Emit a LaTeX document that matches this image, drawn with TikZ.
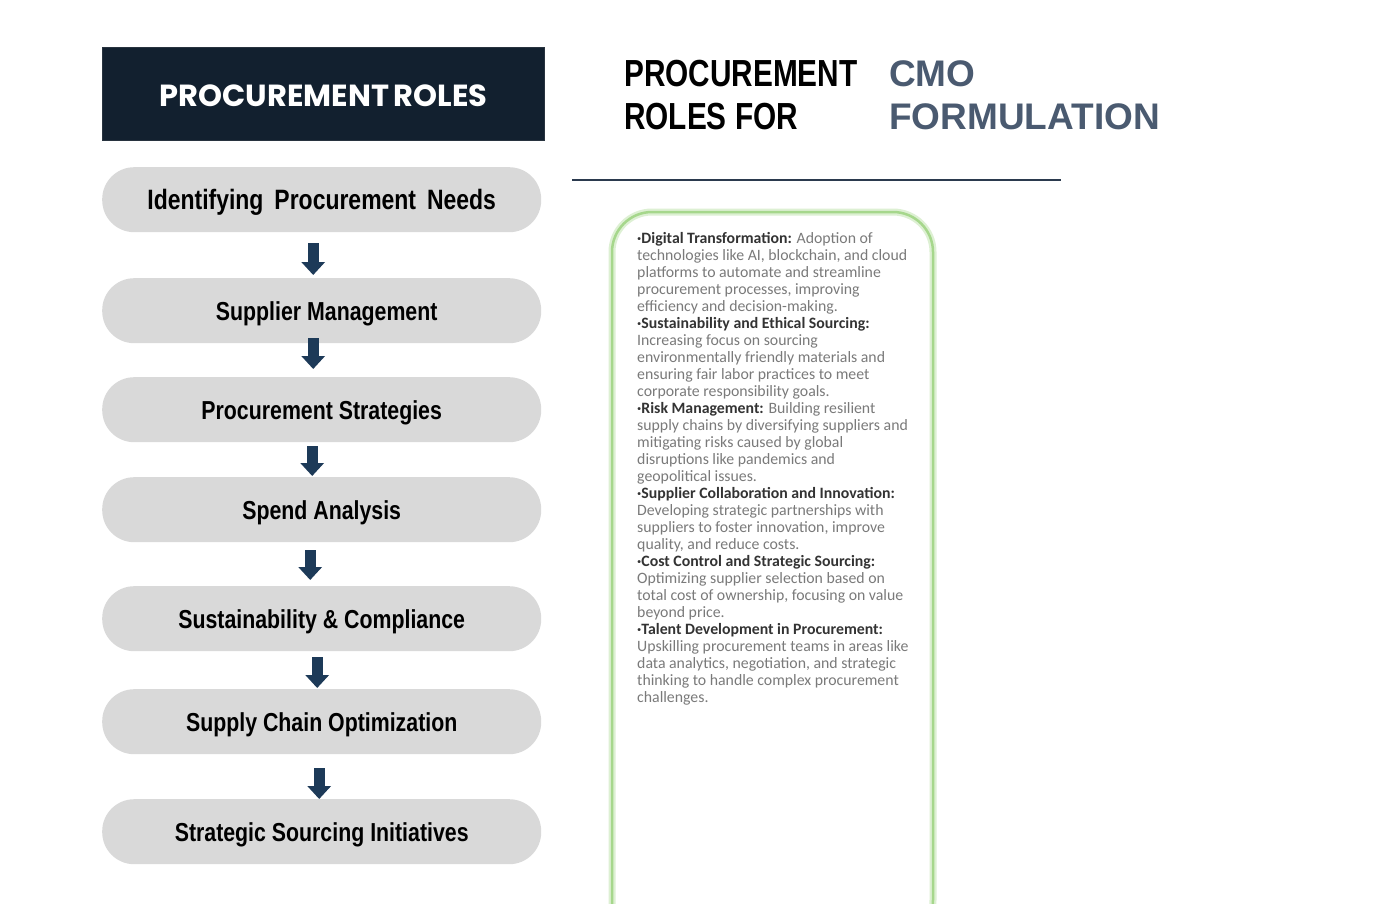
\documentclass[tikz,border=0pt]{standalone}
\usepackage{fontspec}
\setmainfont{Liberation Sans}
\newfontfamily\condfont[FakeStretch=0.82]{Liberation Sans}
\newfontfamily\headfont[FakeStretch=0.79]{Liberation Sans}
\newfontfamily\popfont{Poppins}
\newfontfamily\bodyfont{Carlito}
\usetikzlibrary{arrows.meta,calc}
\definecolor{navy}{HTML}{12202F}
\definecolor{pillgray}{HTML}{D9D9D9}
\definecolor{arrowc}{HTML}{1D3A58}
\definecolor{slate}{HTML}{4A5A70}
\definecolor{lgreen}{HTML}{A6D78C}
\definecolor{pgreen}{HTML}{DDF0D3}
\definecolor{bodygray}{HTML}{7A7A7A}
\definecolor{bodydark}{HTML}{333333}
\definecolor{rulec}{HTML}{2B3A4E}
\tikzset{
  pillbox/.style={fill=pillgray, rounded corners=32pt, minimum width=439pt, minimum height=65pt,
    anchor=north west, inner sep=0pt, text height=20pt, text depth=1.4pt,
    font=\condfont\bfseries\fontsize{26}{28}\selectfont, text=black},
  flowarrow/.style={draw=arrowc, line width=11pt, -{Triangle[width=23pt,length=13pt]}},
  headblack/.style={anchor=base west, inner sep=0pt, font=\headfont\bfseries\fontsize{37.7}{43}\selectfont, text=black},
  headslate/.style={anchor=base west, inner sep=0pt, font=\bfseries\fontsize{37}{43}\selectfont, text=slate},
}
\begin{document}
\begin{tikzpicture}[x=1pt,y=-1pt]
\useasboundingbox (0,0) rectangle (1380,919);
\fill[white] (0,0) rectangle (1380,919);

% title box
\node[fill=navy, draw=navy!80!gray, line width=1pt, minimum width=442pt, minimum height=93pt,
  anchor=north west, inner sep=0pt, text height=26pt, text depth=0.6pt, text=white,
  font=\popfont\bfseries\fontsize{30.5}{32}\selectfont]
  (title) at (102,47) {PROCUREMENT\hspace{-2pt} ROLES};

% pills
\node[pillbox, text height=21pt, text depth=1pt] (p1) at (102,167) {\fontsize{28}{30}\selectfont\spaceskip=11pt Identifying Procurement Needs};
\node[pillbox] (p2) at (102,278) {\hspace*{10pt}Supplier Management};
\node[pillbox] (p3) at (102,377) {Procurement Strategies};
\node[pillbox] (p4) at (102,477) {Spend Analysis};
\node[pillbox] (p5) at (102,586) {Sustainability \& Compliance};
\node[pillbox] (p6) at (102,689) {Supply Chain Optimization};
\node[pillbox] (p7) at (102,799) {Strategic Sourcing Initiatives};

% arrows
\draw[flowarrow] ([xshift=-8.5pt,yshift=-11pt]p1.south) -- ([xshift=-8.5pt,yshift=3pt]p2.north);
\draw[flowarrow] ([xshift=-8.5pt,yshift=5pt]p2.south) -- ([xshift=-8.5pt,yshift=8pt]p3.north);
\draw[flowarrow] ([xshift=-9.5pt,yshift=-4pt]p3.south) -- ([xshift=-9.5pt,yshift=1pt]p4.north);
\draw[flowarrow] ([xshift=-11.5pt,yshift=-8pt]p4.south) -- ([xshift=-11.5pt,yshift=6pt]p5.north);
\draw[flowarrow] ([xshift=-4.5pt,yshift=-6pt]p5.south) -- ([xshift=-4.5pt,yshift=1pt]p6.north);
\draw[flowarrow] ([xshift=-2.5pt,yshift=-14pt]p6.south) -- ([xshift=-2.5pt,yshift=0pt]p7.north);

% right header
\node[headblack] (h1) at (624,86) {PROCUREMENT};
\node[headblack] (h2) at (624,129) {ROLES FOR};
\node[headslate] (h3) at (889,86) {CMO};
\node[headslate] (h4) at (889,129) {FORMULATION};
\coordinate (rl) at (572,180);
\coordinate (rr) at (1061,180);
\draw[rulec, line width=2pt] (rl) -- (rr);

% green panel
\begin{scope}
\clip (0,0) rectangle (1380,903);
\draw[pgreen, line width=7pt, rounded corners=40pt] (612,212) rectangle (933,940);
\draw[lgreen, line width=2.5pt, rounded corners=40pt] (612,212) rectangle (933,940);
\end{scope}

\node[anchor=north west, align=left, inner sep=0pt, text=bodygray,
  font=\bodyfont\fontsize{15.8}{17}\selectfont] (body) at (637,232) {%
{\color{bodydark}\bfseries ·Digital Transformation:} Adoption of\\
technologies like AI, blockchain, and cloud\\
platforms to automate and streamline\\
procurement processes, improving\\
efficiency and decision-making.\\
{\color{bodydark}\bfseries ·Sustainability and Ethical Sourcing:}\\
Increasing focus on sourcing\\
environmentally friendly materials and\\
ensuring fair labor practices to meet\\
corporate responsibility goals.\\
{\color{bodydark}\bfseries ·Risk Management:} Building resilient\\
supply chains by diversifying suppliers and\\
mitigating risks caused by global\\
disruptions like pandemics and\\
geopolitical issues.\\
{\color{bodydark}\bfseries ·Supplier Collaboration and Innovation:}\\
Developing strategic partnerships with\\
suppliers to foster innovation, improve\\
quality, and reduce costs.\\
{\color{bodydark}\bfseries ·Cost Control and Strategic Sourcing:}\\
Optimizing supplier selection based on\\
total cost of ownership, focusing on value\\
beyond price.\\
{\color{bodydark}\bfseries ·Talent Development in Procurement:}\\
Upskilling procurement teams in areas like\\
data analytics, negotiation, and strategic\\
thinking to handle complex procurement\\
challenges.};
\end{tikzpicture}
\end{document}
